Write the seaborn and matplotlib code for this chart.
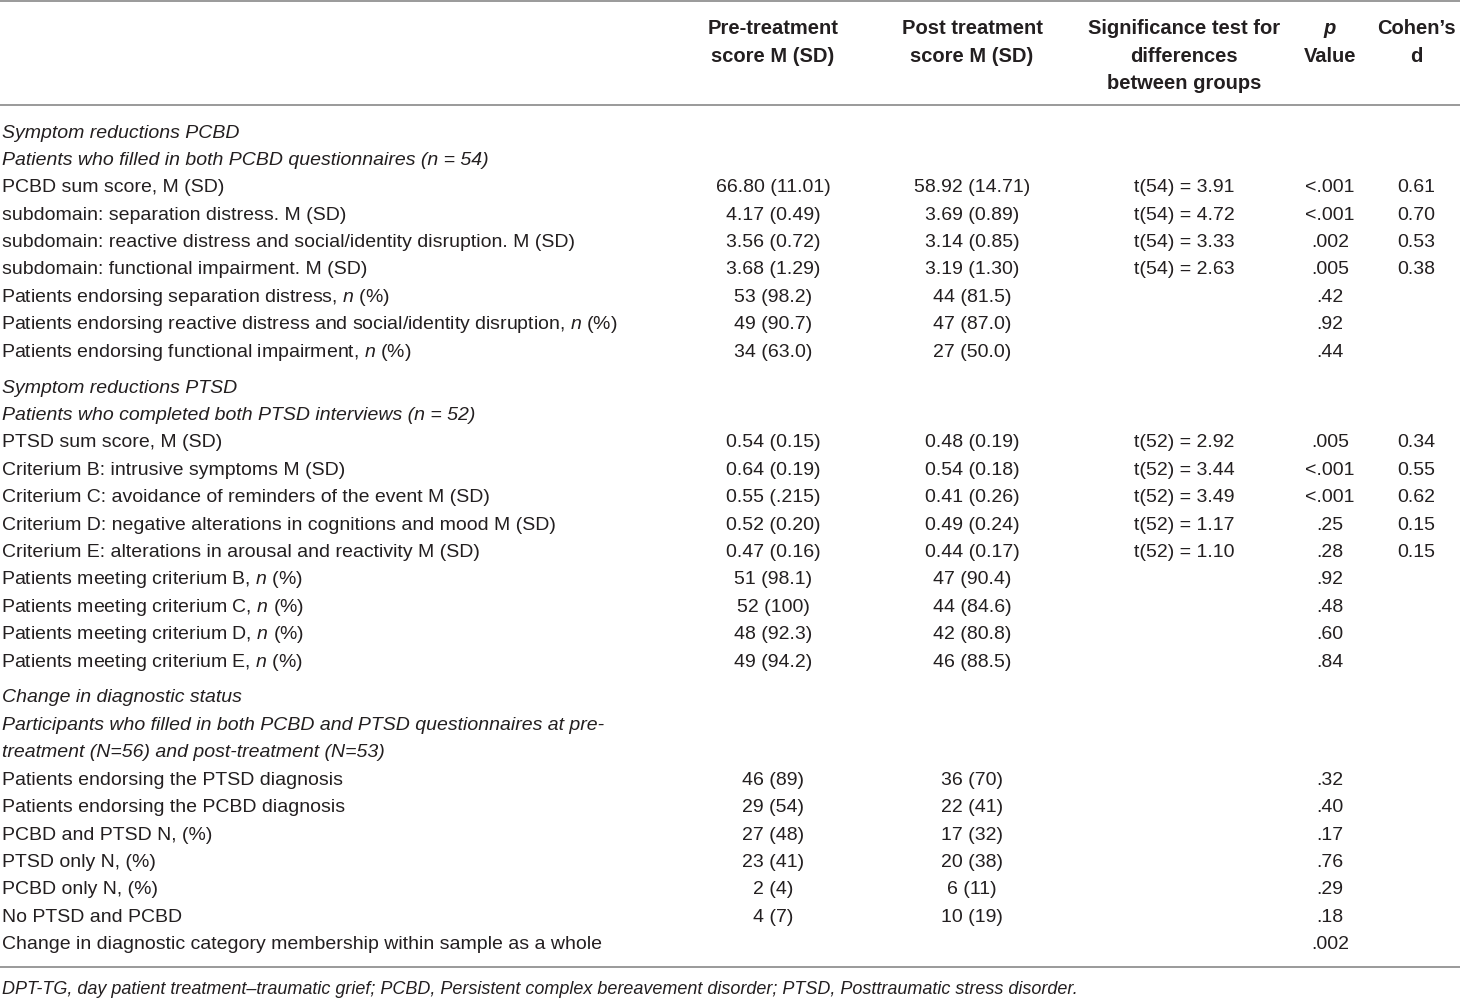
import matplotlib
matplotlib.use("Agg")
import matplotlib.pyplot as plt
import seaborn as sns

sns.set_theme(style="white")
FONT = ["Liberation Sans", "DejaVu Sans"]
plt.rcParams["font.family"] = FONT
plt.rcParams["mathtext.fontset"] = "custom"
plt.rcParams["mathtext.rm"] = "Liberation Sans"
plt.rcParams["mathtext.it"] = "Liberation Sans:italic"

# ---------------- data ----------------
col_headers = [
    ["Pre-treatment", "score M (SD)"],
    ["Post treatment", "score M (SD)"],
    ["Significance test for", "differences", "between groups"],
    ["p", "Value"],
    ["Cohen\u2019s", "d"],
]

labels = [
    "Symptom reductions PCBD",
    "Patients who filled in both PCBD questionnaires (n = 54)",
    "PCBD sum score, M (SD)",
    "subdomain: separation distress. M (SD)",
    "subdomain: reactive distress and social/identity disruption. M (SD)",
    "subdomain: functional impairment. M (SD)",
    "Patients endorsing separation distress, $n$ (%)",
    "Patients endorsing reactive distress and social/identity disruption, $n$ (%)",
    "Patients endorsing functional impairment, $n$ (%)",
    "Symptom reductions PTSD",
    "Patients who completed both PTSD interviews (n = 52)",
    "PTSD sum score, M (SD)",
    "Criterium B: intrusive symptoms M (SD)",
    "Criterium C: avoidance of reminders of the event M (SD)",
    "Criterium D: negative alterations in cognitions and mood M (SD)",
    "Criterium E: alterations in arousal and reactivity M (SD)",
    "Patients meeting criterium B, $n$ (%)",
    "Patients meeting criterium C, $n$ (%)",
    "Patients meeting criterium D, $n$ (%)",
    "Patients meeting criterium E, $n$ (%)",
    "Change in diagnostic status",
    "Participants who filled in both PCBD and PTSD questionnaires at pre-",
    "treatment (N=56) and post-treatment (N=53)",
    "Patients endorsing the PTSD diagnosis",
    "Patients endorsing the PCBD diagnosis",
    "PCBD and PTSD N, (%)",
    "PTSD only N, (%)",
    "PCBD only N, (%)",
    "No PTSD and PCBD",
    "Change in diagnostic category membership within sample as a whole",
]
italic_rows = [0, 1, 9, 10, 20, 21, 22]
section = [0] * 9 + [1] * 11 + [2] * 10

pre = ["", "", "66.80 (11.01)", "4.17 (0.49)", "3.56 (0.72)", "3.68 (1.29)",
       "53 (98.2)", "49 (90.7)", "34 (63.0)",
       "", "", "0.54 (0.15)", "0.64 (0.19)", "0.55 (.215)", "0.52 (0.20)",
       "0.47 (0.16)", "51 (98.1)", "52 (100)", "48 (92.3)", "49 (94.2)",
       "", "", "", "46 (89)", "29 (54)", "27 (48)", "23 (41)", "2 (4)",
       "4 (7)", ""]
post = ["", "", "58.92 (14.71)", "3.69 (0.89)", "3.14 (0.85)", "3.19 (1.30)",
        "44 (81.5)", "47 (87.0)", "27 (50.0)",
        "", "", "0.48 (0.19)", "0.54 (0.18)", "0.41 (0.26)", "0.49 (0.24)",
        "0.44 (0.17)", "47 (90.4)", "44 (84.6)", "42 (80.8)", "46 (88.5)",
        "", "", "", "36 (70)", "22 (41)", "17 (32)", "20 (38)", "6 (11)",
        "10 (19)", ""]
sig = ["", "", "t(54) = 3.91", "t(54) = 4.72", "t(54) = 3.33", "t(54) = 2.63",
       "", "", "",
       "", "", "t(52) = 2.92", "t(52) = 3.44", "t(52) = 3.49", "t(52) = 1.17",
       "t(52) = 1.10", "", "", "", "",
       "", "", "", "", "", "", "", "", "", ""]
pval = ["", "", "<.001", "<.001", ".002", ".005", ".42", ".92", ".44",
        "", "", ".005", "<.001", "<.001", ".25", ".28", ".92", ".48", ".60", ".84",
        "", "", "", ".32", ".40", ".17", ".76", ".29", ".18", ".002"]
cohen = ["", "", "0.61", "0.70", "0.53", "0.38", "", "", "",
         "", "", "0.34", "0.55", "0.62", "0.15", "0.15", "", "", "", "",
         "", "", "", "", "", "", "", "", "", ""]

footnote = ("DPT-TG, day patient treatment\u2013traumatic grief; PCBD, Persistent complex "
            "bereavement disorder; PTSD, Posttraumatic stress disorder.")

# ---------------- layout ----------------
W, H = 1460, 999
col_x = [773, 972, 1184, 1330, 1416]
y0, dy, gap = 133, 27.4, 8.5
hdr_y0 = 29
FS = 14
HFS = 14.5
TXT = "#231f20"
LINE = "#9a9a9a"

fig = plt.figure(figsize=(W / 100, H / 100), dpi=100)
ax = fig.add_axes([0, 0, 1, 1])
ax.set_xlim(0, W)
ax.set_ylim(H, 0)
ax.axis("off")

# rules
for yy in (1.0, 105.0, 967.0):
    ax.plot([0, W], [yy, yy], color=LINE, lw=1.4, solid_capstyle="butt")

# headers
for cx, lines in zip(col_x, col_headers):
    for k, line in enumerate(lines):
        st = "italic" if line == "p" else "normal"
        ax.text(cx, hdr_y0 + dy * k, line, ha="center", va="center",
                fontsize=HFS, fontweight="bold", style=st, color=TXT)

# body
columns = [pre, post, sig, pval, cohen]
for i, lab in enumerate(labels):
    yy = y0 + dy * i + gap * section[i]
    lx = 1 if "$" in lab else 2
    ax.text(lx, yy, lab, ha="left", va="center", fontsize=FS, color=TXT,
            style="italic" if i in italic_rows else "normal")
    for cx, col in zip(col_x, columns):
        if col[i]:
            ax.text(cx, yy, col[i], ha="center", va="center", fontsize=FS, color=TXT)

ax.text(2, 990, footnote, ha="left", va="center", fontsize=13.0,
        style="italic", color=TXT)

fig.savefig("out.png", dpi=100)
